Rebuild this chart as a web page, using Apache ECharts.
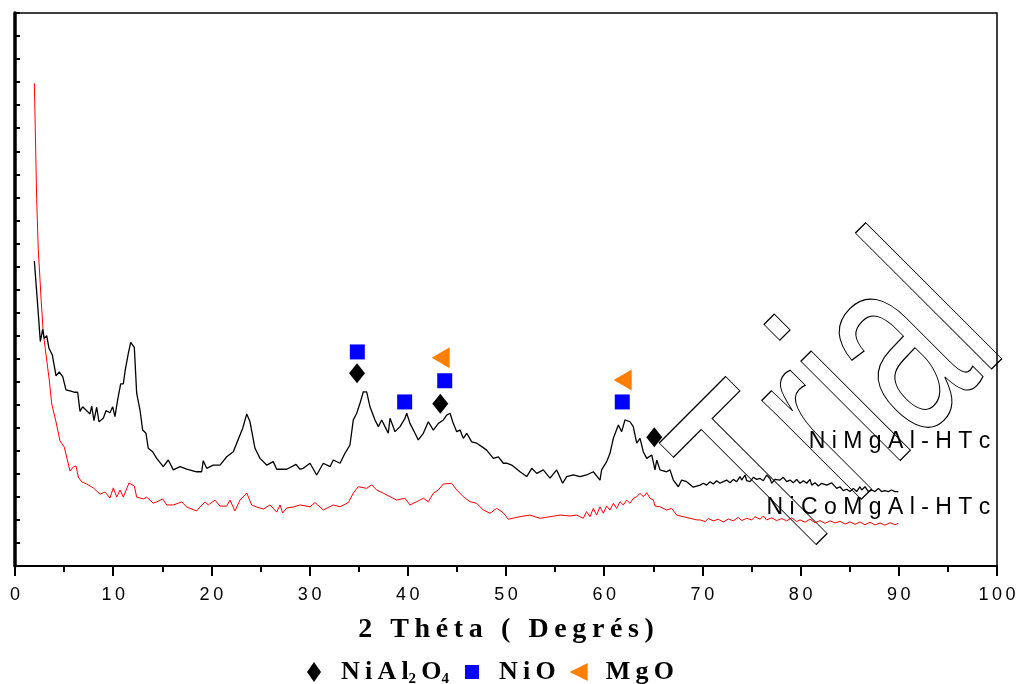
<!DOCTYPE html>
<html><head><meta charset="utf-8">
<script src="https://cdn.jsdelivr.net/npm/echarts@6/dist/echarts.min.js"></script>
<style>html,body{margin:0;padding:0;background:#fff}#c{width:1019px;height:684px}</style>
</head><body><div id="c"></div>
<script>
// NiMgAl-HTc (black) pattern: [2θ, intensity]
const niMgAl = [[1.97,13.24],[2.27,11.55],[2.58,9.74],[2.82,10.27],[2.98,9.88],[3.23,10.00],[3.46,9.45],[3.80,9.16],[4.18,8.25],[4.51,8.42],[4.86,8.22],[5.19,7.64],[5.60,7.60],[6.11,7.54],[6.38,7.54],[6.62,6.71],[6.89,6.91],[7.64,6.60],[7.81,6.94],[8.04,6.31],[8.32,6.89],[8.55,6.26],[8.99,6.41],[9.27,6.74],[9.67,6.65],[9.95,6.91],[10.18,6.48],[10.42,7.13],[10.76,7.90],[11.03,7.90],[11.23,8.51],[11.54,9.23],[11.78,9.71],[12.15,9.49],[12.39,7.50],[12.73,6.77],[13.00,5.90],[13.34,5.76],[13.57,5.11],[14.02,4.96],[14.43,4.67],[15.10,4.31],[15.61,4.60],[16.12,4.17],[16.80,4.31],[17.48,4.20],[18.50,4.09],[19.01,4.09],[19.17,4.57],[19.52,4.24],[20.19,4.38],[20.88,4.38],[21.56,4.74],[22.23,4.96],[22.84,5.61],[23.19,5.98],[23.60,6.60],[23.93,6.26],[24.44,5.11],[24.95,4.67],[25.63,4.38],[26.30,4.53],[26.65,4.20],[27.67,4.20],[28.62,4.41],[29.02,4.20],[29.36,4.24],[30.04,4.46],[30.72,3.95],[31.39,4.46],[32.08,4.31],[32.41,4.60],[33.10,4.46],[33.60,4.89],[34.11,5.25],[34.45,6.34],[34.80,6.63],[35.13,7.06],[35.47,7.56],[35.81,7.56],[36.15,6.91],[36.66,6.34],[37.00,6.05],[37.34,6.34],[37.68,6.05],[38.01,5.76],[38.19,6.41],[38.70,5.83],[39.21,6.05],[39.71,6.41],[39.89,6.63],[40.22,6.19],[40.73,5.76],[41.07,5.47],[41.58,5.76],[42.09,6.26],[42.60,5.90],[43.11,6.19],[43.62,6.34],[43.96,6.55],[44.30,6.63],[44.63,6.19],[44.98,5.83],[45.32,5.90],[45.65,5.54],[46.00,5.76],[46.51,5.39],[47.02,5.33],[47.53,5.18],[48.03,5.03],[48.71,4.67],[49.22,4.74],[49.73,4.46],[50.07,4.46],[50.58,4.38],[51.43,4.09],[52.11,3.88],[52.62,4.24],[53.13,4.02],[53.80,4.17],[54.48,3.81],[55.16,4.17],[55.77,3.59],[56.18,3.88],[56.85,3.95],[57.54,3.88],[58.22,3.95],[58.89,4.09],[59.57,3.73],[59.74,4.17],[60.25,4.53],[60.59,4.89],[60.93,5.54],[61.44,6.12],[61.78,5.83],[62.12,6.34],[62.63,6.26],[62.96,6.05],[63.31,5.33],[63.65,5.54],[63.98,4.96],[64.33,4.67],[64.84,4.82],[65.17,4.17],[65.35,4.60],[65.68,4.17],[66.36,4.09],[66.70,4.17],[67.04,3.73],[67.55,3.44],[67.89,3.73],[68.40,3.66],[69.07,3.42],[69.76,3.51],[70.10,3.59],[70.43,3.51],[70.78,3.66],[71.11,3.56],[71.45,3.70],[71.79,3.59],[72.13,3.66],[72.47,3.73],[72.81,3.61],[73.15,3.76],[73.49,3.66],[73.83,3.88],[74.00,3.73],[74.34,3.95],[74.51,3.70],[74.85,3.66],[75.19,3.85],[75.52,3.76],[75.87,3.80],[76.20,3.70],[76.54,3.95],[76.71,4.02],[76.88,3.80],[77.06,3.59],[77.39,3.76],[77.90,3.73],[78.24,3.85],[78.58,3.66],[78.92,3.73],[79.26,3.61],[79.60,3.76],[79.94,3.59],[80.28,3.70],[80.62,3.59],[80.96,3.76],[81.13,3.51],[81.47,3.61],[81.81,3.47],[82.15,3.59],[82.66,3.51],[83.17,3.61],[83.68,3.37],[84.01,3.44],[84.35,3.27],[84.69,3.33],[85.03,3.23],[85.37,3.37],[85.71,3.23],[86.05,3.44],[86.22,3.30],[86.56,3.44],[86.90,3.23],[87.24,3.30],[87.58,3.23],[87.92,3.37],[88.25,3.23],[88.59,3.27],[88.93,3.23],[89.27,3.30],[89.61,3.23],[89.95,3.23]];

// NiCoMgAl-HTc (red) pattern
const niCoMgAl = [[1.97,20.95],[2.21,15.89],[2.37,13.72],[2.55,12.41],[2.66,11.55],[2.75,10.98],[2.88,10.11],[3.23,8.94],[3.49,8.07],[3.74,7.03],[4.18,6.25],[4.58,5.43],[5.02,5.16],[5.60,4.12],[5.94,4.30],[6.21,4.34],[6.45,3.86],[6.79,3.65],[7.30,3.56],[7.97,3.39],[8.15,3.39],[8.66,3.12],[9.16,3.21],[9.67,2.95],[10.01,3.39],[10.36,2.99],[10.69,3.30],[11.03,2.99],[11.61,3.60],[12.15,3.47],[12.39,2.99],[13.07,2.91],[13.41,2.99],[14.08,2.73],[14.43,2.78],[15.04,2.91],[15.45,2.65],[16.12,2.65],[16.98,2.78],[17.48,2.56],[18.50,2.39],[18.84,2.56],[19.35,2.78],[19.68,2.65],[20.37,2.86],[20.88,2.60],[21.56,2.60],[21.89,2.86],[22.40,2.39],[22.91,2.86],[23.60,3.17],[24.10,2.65],[24.61,2.56],[25.29,2.47],[25.97,2.65],[26.65,2.34],[26.99,2.65],[27.26,2.30],[27.67,2.52],[28.34,2.56],[29.02,2.65],[30.04,2.57],[30.55,2.75],[31.39,2.43],[32.41,2.65],[33.10,2.57],[33.94,2.75],[34.45,3.16],[34.96,3.44],[35.81,3.37],[36.32,3.52],[36.83,3.30],[37.50,3.16],[38.19,3.01],[38.87,2.86],[39.71,2.94],[40.22,2.65],[40.91,2.79],[41.58,2.94],[42.09,2.79],[42.60,3.16],[43.11,3.30],[43.62,3.56],[44.47,3.59],[44.98,3.30],[45.65,3.01],[46.33,2.79],[47.02,2.72],[47.69,2.43],[48.37,2.29],[49.05,2.50],[49.73,2.31],[50.23,2.03],[51.43,2.14],[52.44,2.21],[53.46,2.07],[54.48,2.14],[55.50,2.21],[56.52,2.17],[57.20,2.21],[57.87,2.07],[58.21,2.36],[58.55,2.14],[58.89,2.50],[59.23,2.21],[59.57,2.57],[59.91,2.29],[60.25,2.60],[60.59,2.43],[60.93,2.72],[61.27,2.50],[61.61,2.79],[61.95,2.65],[62.29,2.86],[62.63,2.72],[62.97,2.94],[63.31,3.01],[63.65,3.15],[63.99,3.01],[64.33,3.18],[64.67,2.94],[65.01,2.86],[65.17,2.60],[65.68,2.57],[66.36,2.43],[66.87,2.50],[67.38,2.21],[68.05,2.14],[68.74,2.07],[69.42,2.00],[69.76,2.00],[70.27,1.93],[70.61,2.06],[71.11,1.96],[71.62,2.03],[72.13,1.91],[72.64,2.04],[73.15,1.96],[73.66,2.11],[74.00,1.97],[74.51,2.07],[75.02,2.00],[75.36,2.14],[75.87,2.03],[76.20,2.17],[76.54,2.00],[77.06,2.09],[77.56,1.97],[78.07,2.06],[78.58,1.96],[79.09,2.09],[79.60,1.93],[79.94,2.00],[80.45,1.90],[80.96,2.03],[81.47,1.88],[81.98,1.97],[82.49,1.85],[83.00,1.96],[83.51,1.87],[84.01,1.94],[84.52,1.82],[85.03,1.91],[85.54,1.81],[86.05,1.91],[86.56,1.79],[87.07,1.90],[87.58,1.78],[88.09,1.87],[88.59,1.77],[89.10,1.88],[89.61,1.79],[89.95,1.85]];

// Phase markers
const nial2o4Marks = [[34.83,8.36],[43.31,7.04],[65.10,5.59]];
const nioMarks = [[34.86,9.29],[39.68,7.12],[43.76,8.04],[61.84,7.12]];
const mgoMarks = [[43.35,9.04],[61.88,8.07]];

const curveNames = ['NiMgAl-HTc', 'NiCoMgAl-HTc'];
const phaseNames = ['NiAl2O4', 'NiO', 'MgO'];
const axisTitle = '2 Théta ( Degrés)';

const TS = '\u2009';
const spaced = s => s.split('').join(TS);

const chart = echarts.init(document.getElementById('c'), null, {renderer: 'canvas'});
const serif = '"Liberation Serif", "Times New Roman", serif';
const sans = '"Liberation Sans", Arial, sans-serif';

const legendFmt = {
  'NiAl2O4': '{a|  ' + spaced('NiAl') + '}{s|2}{a|' + TS + 'O}{s|4}',
  'NiO': '{a|  ' + spaced('NiO') + '}',
  'MgO': '{a|  ' + spaced('MgO') + '}'
};

const option = {
  animation: false,
  backgroundColor: '#fff',
  grid: {left: 15, right: 22, top: 13, bottom: 118, show: true, borderColor: '#000', borderWidth: 1.5, backgroundColor: 'transparent'},
  xAxis: {
    type: 'value', min: 0, max: 100, interval: 10,
    axisLine: {show: true, onZero: false, lineStyle: {color: '#000', width: 2}},
    axisTick: {show: true, inside: false, length: 10, lineStyle: {color: '#000', width: 2}},
    minorTick: {show: true, splitNumber: 2, length: 6, lineStyle: {color: '#000', width: 2}},
    splitLine: {show: false},
    axisLabel: {color: '#000', fontFamily: sans, fontSize: 18, margin: 20, formatter: v => spaced(String(v))},
    name: spaced(axisTitle), nameLocation: 'middle', nameGap: 64,
    nameTextStyle: {color: '#000', fontFamily: serif, fontWeight: 'bold', fontSize: 28, verticalAlign: 'middle'}
  },
  yAxis: {
    type: 'value', min: 0, max: 24, interval: 1,
    axisLine: {show: true, onZero: false, lineStyle: {color: '#000', width: 3.5}},
    axisTick: {show: true, inside: true, length: 5, lineStyle: {color: '#000', width: 2}},
    axisLabel: {show: false},
    splitLine: {show: false}
  },
  legend: {
    data: [
      {name: 'NiAl2O4', icon: 'path://M0,0M18,20M9,0L16,10L9,20L2,10Z'},
      {name: 'NiO', icon: 'path://M0,0M18,20M2,3H16V17H2Z'},
      {name: 'MgO', icon: 'path://M0,0M18,20M0,10L18,1L18,19Z'}
    ],
    left: 300, top: 654, orient: 'horizontal', itemWidth: 18, itemHeight: 20, itemGap: 14,
    selectedMode: false,
    formatter: name => legendFmt[name],
    textStyle: {
      color: '#000',
      rich: {
        a: {fontFamily: serif, fontWeight: 'bold', fontSize: 26, lineHeight: 30, color: '#000'},
        s: {fontFamily: serif, fontWeight: 'bold', fontSize: 15, lineHeight: 12, verticalAlign: 'bottom', color: '#000'}
      }
    }
  },
  series: [
    {name: curveNames[0], type: 'line', data: niMgAl, showSymbol: false, symbol: 'none', lineStyle: {color: '#000', width: 1.3}, z: 3},
    {name: curveNames[1], type: 'line', data: niCoMgAl, showSymbol: false, symbol: 'none', lineStyle: {color: '#ff0000', width: 1}, z: 2},
    {name: phaseNames[0], type: 'scatter', data: nial2o4Marks, symbol: 'diamond', symbolSize: [16, 20], itemStyle: {color: '#000', opacity: 1}, z: 5},
    {name: phaseNames[1], type: 'scatter', data: nioMarks, symbol: 'rect', symbolSize: 15, itemStyle: {color: '#0000ff', opacity: 1}, z: 5},
    {name: phaseNames[2], type: 'scatter', data: mgoMarks, symbol: 'path://M0,10L18,0L18,20Z', symbolSize: [18, 21], itemStyle: {color: '#ff8000', opacity: 1}, z: 5}
  ]
};
chart.setOption(option);

const p1 = chart.convertToPixel({gridIndex: 0}, [99.3, 5.38]);
const p2 = chart.convertToPixel({gridIndex: 0}, [99.3, 2.52]);
chart.setOption({
  graphic: [
    {type: 'text', x: p1[0], y: p1[1], z: 10, style: {text: curveNames[0].split('').join(' '), font: '23px ' + sans, fill: '#000', align: 'right', verticalAlign: 'middle'}},
    {type: 'text', x: p2[0], y: p2[1], z: 10, style: {text: curveNames[1].split('').join(' '), font: '23px ' + sans, fill: '#000', align: 'right', verticalAlign: 'middle'}},
    {type: 'text', x: 734, y: 523, rotation: Math.PI / 4, scaleY: 1.6, z: 20, silent: true,
     style: {text: 'Trial', font: '166px ' + sans, fill: 'none', stroke: '#000', lineWidth: 0.8, align: 'left', verticalAlign: 'middle'}}
  ]
});
</script></body></html>
